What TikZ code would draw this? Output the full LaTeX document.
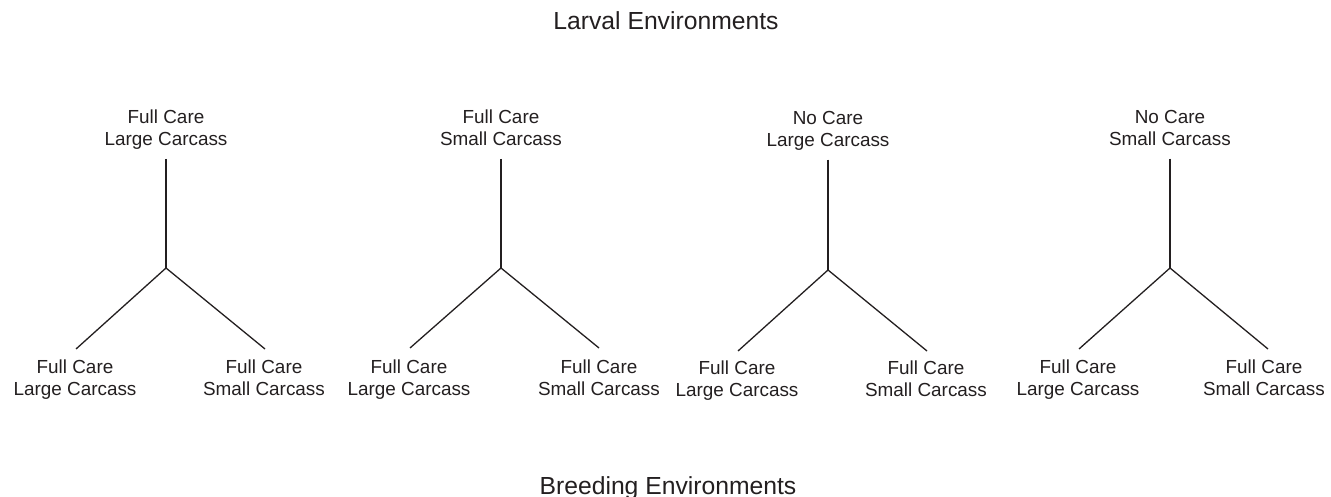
\documentclass[tikz,border=0pt]{standalone}
\usepackage{fontspec}
\setmainfont{Liberation Sans}
\definecolor{ink}{HTML}{231F20}
\begin{document}
\begin{tikzpicture}[x=1pt,y=-1pt,
  lblbase/.style={font=\fontsize{18.9}{22}\selectfont, align=center, inner sep=0pt, text=ink,
    execute at begin node={\vphantom{Fl}}, execute at end node={\vphantom{g}}},
  toplbl/.style={lblbase, outer sep=9pt},
  botlbl/.style={lblbase},
  ttl/.style={font=\fontsize{24.7}{28}\selectfont, inner sep=0pt, text=ink},
  branch/.style={draw=ink, line width=1.3pt}]
\useasboundingbox (0,0) rectangle (1331,497);
\node[ttl, anchor=base] (title) at (666,30) {Larval Environments};
\node[ttl, anchor=base] (foot) at (668,494) {Breeding Environments};

% tree 1
\node[toplbl] (t1) at (166,130) {Full Care\\Large Carcass};
\coordinate (j1) at (166,268);
\coordinate (a1) at (76,349);
\coordinate (b1) at (265,349);
\node[botlbl] (l1) at (75,380) {Full Care\\Large Carcass};
\node[botlbl] (r1) at (264,380) {Full Care\\Small Carcass};
\draw[branch] (t1) -- (j1);
\draw[branch] (j1) -- (a1);
\draw[branch] (j1) -- (b1);

% tree 2
\node[toplbl] (t2) at (501,130) {Full Care\\Small Carcass};
\coordinate (j2) at (501,268);
\coordinate (a2) at (410,348);
\coordinate (b2) at (599,348);
\node[botlbl] (l2) at (409,380) {Full Care\\Large Carcass};
\node[botlbl] (r2) at (599,380) {Full Care\\Small Carcass};
\draw[branch] (t2) -- (j2);
\draw[branch] (j2) -- (a2);
\draw[branch] (j2) -- (b2);

% tree 3
\node[toplbl] (t3) at (828,131) {No Care\\Large Carcass};
\coordinate (j3) at (828,270);
\coordinate (a3) at (738,351);
\coordinate (b3) at (927,351);
\node[botlbl] (l3) at (737,381) {Full Care\\Large Carcass};
\node[botlbl] (r3) at (926,381) {Full Care\\Small Carcass};
\draw[branch] (t3) -- (j3);
\draw[branch] (j3) -- (a3);
\draw[branch] (j3) -- (b3);

% tree 4
\node[toplbl] (t4) at (1170,130) {No Care\\Small Carcass};
\coordinate (j4) at (1170,268);
\coordinate (a4) at (1079,349);
\coordinate (b4) at (1268,349);
\node[botlbl] (l4) at (1078,380) {Full Care\\Large Carcass};
\node[botlbl] (r4) at (1264,380) {Full Care\\Small Carcass};
\draw[branch] (t4) -- (j4);
\draw[branch] (j4) -- (a4);
\draw[branch] (j4) -- (b4);
\end{tikzpicture}
\end{document}
